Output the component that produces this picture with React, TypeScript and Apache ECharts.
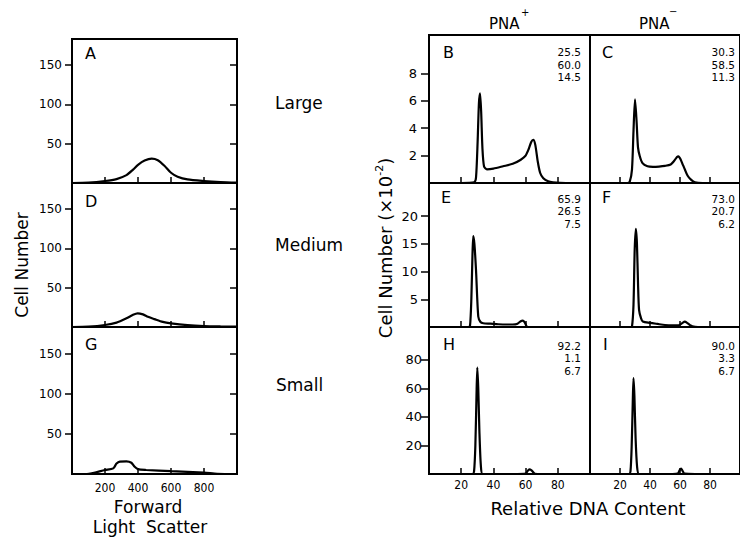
import React, { useEffect, useRef } from 'react';
import * as echarts from 'echarts';

// ---------- Left column: forward light scatter histograms ----------
const scatterTicks = [200, 400, 600, 800];
const cellTicks = [50, 100, 150];

const largeX = [0, 100, 200, 270, 330, 370, 400, 440, 483, 520, 560, 600, 640, 700, 800, 900, 1000];
const largeY = [0, 0.5, 2.5, 5, 10, 17, 23, 28.5, 31, 29, 22, 13, 8, 4.5, 2.5, 1.2, 0.5];

const mediumX = [0, 100, 200, 270, 330, 370, 398, 430, 460, 500, 550, 600, 700, 800, 900, 1000];
const mediumY = [0, 0.5, 2.5, 5.5, 11, 15.5, 17.4, 16, 13, 10, 6.5, 4.7, 2.5, 1.3, 0.8, 0.5];

const smallX = [0, 90, 200, 250, 270, 290, 330, 360, 380, 400, 450, 600, 800, 880, 1000];
const smallY = [0, 0, 5, 7, 13, 15.5, 15.8, 14, 9, 6, 5, 3.5, 1.7, 0.3, 0];

// ---------- Right columns: relative DNA content histograms ----------
const dnaTicks = [20, 40, 60, 80];
const topTicks = [2, 4, 6, 8];
const midTicks = [5, 10, 15, 20];
const lowTicks = [20, 40, 60, 80];

const bX = [0, 20, 28, 29.2, 30.2, 31, 31.7, 32.4, 33.2, 34.2, 36, 40, 46, 52, 57, 60, 62, 63.5, 64.8, 66, 67.5, 69, 71, 74, 77, 85, 100];
const bY = [0, 0, 0.05, 0.4, 3, 5.8, 6.55, 5.2, 2.5, 1.2, 1.0, 1.05, 1.22, 1.4, 1.7, 2.0, 2.5, 3.0, 3.15, 2.8, 1.6, 0.75, 0.35, 0.12, 0.05, 0, 0];

const cX = [0, 20, 25, 26.5, 28, 29, 30, 31, 32, 33.2, 35, 38.3, 42, 46, 50, 53.8, 56, 58, 59, 60.5, 62, 63.2, 65, 67.3, 70, 75, 100];
const cY = [0, 0, 0, 0.1, 1, 3.8, 6.1, 4.6, 2.6, 1.95, 1.45, 1.22, 1.18, 1.2, 1.25, 1.35, 1.6, 1.9, 1.95, 1.7, 1.3, 1.0, 0.55, 0.25, 0.05, 0, 0];

const eX = [0, 20, 24.5, 25.5, 26.3, 27, 27.5, 28.2, 29.2, 30.6, 32, 33.7, 38, 43, 48, 52, 55, 57, 58.2, 59.5, 60.7, 62, 70, 100];
const eY = [0, 0, 0, 0.3, 5, 13, 16.4, 15, 10.3, 1.9, 0.9, 0.67, 0.6, 0.5, 0.45, 0.45, 0.6, 1.05, 1.15, 0.8, 0.1, 0, 0, 0];

const fX = [0, 20, 27, 28, 29, 29.8, 30.6, 31.3, 32, 32.7, 34, 35.2, 40, 45, 50, 55, 59, 61.5, 63.2, 65, 67, 68.3, 72, 100];
const fY = [0, 0, 0, 0.1, 4, 14, 17.7, 15, 8, 3.1, 1.6, 1.0, 0.75, 0.55, 0.36, 0.3, 0.3, 0.7, 0.96, 0.7, 0.3, 0.1, 0, 0];

const hX = [0, 20, 27, 28, 28.8, 29.5, 30, 30.6, 31.3, 32.2, 33.3, 40, 55, 60, 61.5, 62.7, 64, 65.8, 70, 100];
const hY = [0, 0, 0, 2, 20, 55, 74.6, 60, 30, 6, 0, 0, 0, 0.3, 2.5, 3.2, 2.2, 0.2, 0, 0];

const iX = [0, 20, 26, 27, 27.8, 28.5, 29, 29.6, 30.4, 31.4, 32.7, 40, 55, 58.5, 59.7, 60.7, 61.7, 63, 70, 100];
const iY = [0, 0, 0, 2, 20, 50, 67.2, 55, 25, 5, 0, 0, 0, 0.3, 2.5, 3.8, 2.2, 0.2, 0, 0];

// ---------- Texts ----------
const bNums = ['25.5', '60.0', '14.5'];
const cNums = ['30.3', '58.5', '11.3'];
const eNums = ['65.9', '26.5', '7.5'];
const fNums = ['73.0', '20.7', '6.2'];
const hNums = ['92.2', '1.1', '6.7'];
const iNums = ['90.0', '3.3', '6.7'];
const sizeLabels = ['Large', 'Medium', 'Small'];

const FONT = 'DejaVu Sans';
const FONT_C = 'DejaVu Sans Condensed';

const zip = (xs: number[], ys: number[]) => xs.map((x, i) => [x, ys[i]]);

function buildOption() {
  const grid: any[] = [];
  const xAxis: any[] = [];
  const yAxis: any[] = [];
  const series: any[] = [];

  const addPanel = (p: any) => {
    const gi = grid.length;
    grid.push({ left: p.left, top: p.top, width: p.width, height: p.height, show: true, borderColor: '#000', borderWidth: 2, backgroundColor: 'transparent' });
    xAxis.push({
      gridIndex: gi, type: 'value', min: p.xMin, max: p.xMax,
      axisLine: { show: true, onZero: false, lineStyle: { color: '#000', width: 2 } },
      splitLine: { show: false },
      axisTick: { show: true, inside: true, length: 6, customValues: p.xTicks, lineStyle: { color: '#000', width: 1.5 } },
      axisLabel: p.xLabels
        ? { show: true, customValues: p.xTicks, margin: p.xMargin, fontSize: p.xFont, fontFamily: FONT_C, color: '#000' }
        : { show: false },
    });
    const yi = yAxis.length;
    yAxis.push({
      gridIndex: gi, type: 'value', min: p.yMin, max: p.yMax, position: 'left',
      axisLine: { show: true, onZero: false, lineStyle: { color: '#000', width: 2 } },
      splitLine: { show: false },
      axisTick: p.yTicks
        ? { show: true, inside: false, length: p.yTickLen, customValues: p.yTicks, lineStyle: { color: '#000', width: 1.5 } }
        : { show: false },
      axisLabel: p.yTicks
        ? { show: true, customValues: p.yTicks, margin: p.yMargin, fontSize: p.yFont, fontFamily: FONT, color: '#000' }
        : { show: false },
    });
    if (p.mirror) {
      yAxis.push({
        gridIndex: gi, type: 'value', min: p.yMin, max: p.yMax, position: 'right',
        axisLine: { show: true, onZero: false, lineStyle: { color: '#000', width: 2 } },
        splitLine: { show: false },
        axisTick: { show: true, inside: true, length: 7, customValues: p.yTicks, lineStyle: { color: '#000', width: 1.5 } },
        axisLabel: { show: false },
      });
    }
    series.push({
      type: 'line', xAxisIndex: gi, yAxisIndex: yi, data: p.data,
      smooth: 0.25, showSymbol: false, clip: true, silent: true,
      lineStyle: { color: '#000', width: 2.2 },
    });
  };

  const left = { left: 72, width: 165, xMin: 0, xMax: 1000, xTicks: scatterTicks, xMargin: 8, xFont: 12, yMin: 0, yMax: 183, yTicks: cellTicks, yTickLen: 7, yMargin: 10, yFont: 12, mirror: true };
  addPanel({ ...left, top: 39, height: 144, xLabels: false, data: zip(largeX, largeY) });
  addPanel({ ...left, top: 183, height: 144, xLabels: false, data: zip(mediumX, mediumY) });
  addPanel({ ...left, top: 327, height: 147, xLabels: true, data: zip(smallX, smallY) });

  const dnaL = { left: 429, width: 161, xMin: 0, xMax: 100, xTicks: dnaTicks, xMargin: 5, xFont: 12, yMin: 0, yTickLen: 8, yFont: 13, mirror: false };
  const dnaR = { ...dnaL, left: 590, yTicks: null };
  addPanel({ ...dnaL, top: 35, height: 148, yMax: 10.8, yTicks: topTicks, yMargin: 12, xLabels: false, data: zip(bX, bY) });
  addPanel({ ...dnaR, top: 35, height: 148, yMax: 10.8, xLabels: false, data: zip(cX, cY) });
  addPanel({ ...dnaL, top: 183, height: 144, yMax: 26, yTicks: midTicks, yMargin: 11, xLabels: false, data: zip(eX, eY) });
  addPanel({ ...dnaR, top: 183, height: 144, yMax: 26, xLabels: false, data: zip(fX, fY) });
  addPanel({ ...dnaL, top: 327, height: 147, yMax: 103, yTicks: lowTicks, yMargin: 7, xLabels: true, data: zip(hX, hY) });
  addPanel({ ...dnaR, top: 327, height: 147, yMax: 103, xLabels: true, data: zip(iX, iY) });

  const txt = (x: number, y: number, text: string, extra: any = {}) => ({
    type: 'text', x, y, silent: true,
    style: { text, fill: '#000', fontFamily: FONT, fontSize: 16, align: 'left', verticalAlign: 'middle', ...extra },
  });
  const nums = (x: number, y: number, arr: string[]) =>
    arr.map((s, k) => txt(x, y + k * 12.5, s, { fontSize: 10.5, align: 'right', verticalAlign: 'middle' }));

  const graphic: any[] = [
    // panel letters
    txt(85, 53, 'A'), txt(85, 201, 'D'), txt(85, 344, 'G'),
    txt(443, 52.5, 'B'), txt(602, 52.5, 'C'),
    txt(441, 197.5, 'E'), txt(602, 197.5, 'F'),
    txt(443, 344, 'H'), txt(603, 344, 'I'),
    // percentages
    ...nums(581, 52, bNums), ...nums(735, 52, cNums),
    ...nums(581, 198.5, eNums), ...nums(735, 198.5, fNums),
    ...nums(581, 345.5, hNums), ...nums(735, 345.5, iNums),
    // size class labels
    txt(275, 103, sizeLabels[0], { fontSize: 17 }),
    txt(275, 245, sizeLabels[1], { fontSize: 17 }),
    txt(276, 385, sizeLabels[2], { fontSize: 17 }),
    // column titles
    txt(489, 24, 'PNA', { fontSize: 15 }),
    txt(521, 12, '+', { fontSize: 10 }),
    txt(639, 24, 'PNA', { fontSize: 15 }),
    txt(669, 11, '−', { fontSize: 10 }),
    // axis titles
    txt(148, 507, 'Forward', { fontSize: 17, align: 'center' }),
    txt(150, 527, 'Light  Scatter', { fontSize: 17, align: 'center' }),
    txt(588, 508, 'Relative DNA Content', { fontSize: 18, align: 'center' }),
    {
      type: 'text', x: 22, y: 265, rotation: Math.PI / 2, silent: true,
      style: { text: 'Cell Number', fill: '#000', fontFamily: FONT, fontSize: 17, align: 'center', verticalAlign: 'middle' },
    },
    {
      type: 'text', x: 385, y: 248, rotation: Math.PI / 2, silent: true,
      style: {
        text: 'Cell Number (×10{sup|-2})', fill: '#000', fontFamily: FONT, fontSize: 18,
        align: 'center', verticalAlign: 'middle',
        rich: { sup: { fontSize: 11, fontFamily: FONT, fill: '#000', verticalAlign: 'top', lineHeight: 22 } },
      },
    },
  ];

  return {
    animation: false,
    backgroundColor: '#fff',
    textStyle: { fontFamily: FONT },
    grid, xAxis, yAxis, series, graphic,
  };
}

export default function App() {
  const ref = useRef<HTMLDivElement>(null);
  useEffect(() => {
    document.body.style.margin = '0';
    if (!ref.current) return;
    const chart = echarts.init(ref.current, undefined, { renderer: 'svg' });
    chart.setOption(buildOption() as any);
    return () => chart.dispose();
  }, []);
  return <div ref={ref} style={{ width: 740, height: 537 }} />;
}
